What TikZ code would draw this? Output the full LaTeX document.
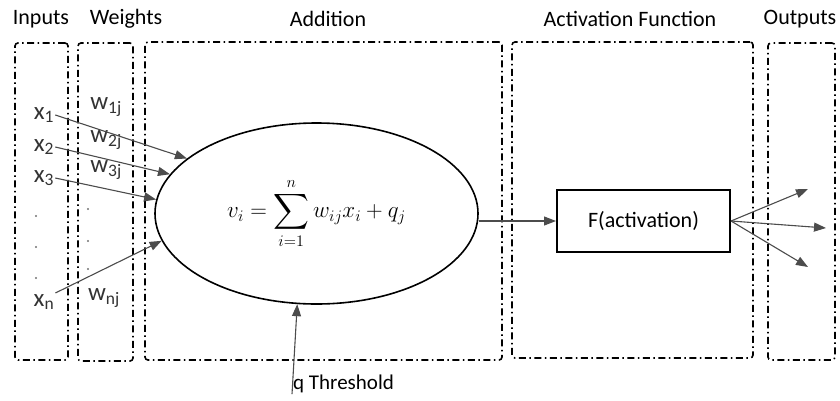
\RequirePackage{fix-cm}
\documentclass[tikz,border=0pt]{standalone}
\usepackage{amsmath}
\usepackage{fontspec}
\setmainfont{Carlito}
\usetikzlibrary{arrows.meta,shapes.geometric}

\begin{document}
\begin{tikzpicture}[
  x=1pt,
  y=-1pt,
  region/.style={
    draw,
    line width=1.6pt,
    dash pattern=on 7pt off 3.5pt on 1.5pt off 3.5pt,
    rounded corners=3pt,
    inner sep=0pt
  },
  header/.style={font=\fontsize{22}{26}\selectfont, inner sep=1pt},
  symbol/.style={font=\fontsize{25}{28}\selectfont, text=black!80, inner sep=1pt},
  dotmark/.style={circle, fill=black!55, inner sep=0pt, minimum size=2.2pt},
  flow/.style={-{Triangle[length=12pt,width=9pt]}, line width=1.1pt, draw=black!70}
]
\useasboundingbox (0,0) rectangle (840,400);

\node[region, minimum width=53, minimum height=317] (inbox) at (41.5,201.5) {};
\node[region, minimum width=55, minimum height=318] (wbox) at (105.5,202) {};
\node[region, minimum width=357, minimum height=318] (addbox) at (323.5,201) {};
\node[region, minimum width=241, minimum height=316] (actbox) at (632.5,200) {};
\node[region, minimum width=67, minimum height=317] (outbox) at (801.5,201.5) {};

\node[header] (hin) at (41,19) {Inputs};
\node[header] (hw) at (126,19) {Weights};
\node[header] (hadd) at (328,19) {Addition};
\node[header] (hact) at (630,19) {Activation Function};
\node[header] (hout) at (800,19) {Outputs};

\node[symbol] (x1) at (44,115) {x\textsubscript{1}};
\node[symbol] (x2) at (44,147) {x\textsubscript{2}};
\node[symbol] (x3) at (44,178) {x\textsubscript{3}};
\node[symbol] (xn) at (44,302) {x\textsubscript{n}};
\node[dotmark] (xdot1) at (36,216) {};
\node[dotmark] (xdot2) at (36,247) {};
\node[dotmark] (xdot3) at (36,278) {};

\node[symbol] (w1) at (106,107) {w\textsubscript{1j}};
\node[symbol] (w2) at (106,140) {w\textsubscript{2j}};
\node[symbol] (w3) at (106,170) {w\textsubscript{3j}};
\node[symbol] (wn) at (104,298) {w\textsubscript{nj}};
\node[dotmark] (wdot1) at (88,209) {};
\node[dotmark] (wdot2) at (88,241) {};
\node[dotmark] (wdot3) at (88,269) {};

\node[ellipse, draw, line width=1.6pt, minimum width=323, minimum height=181, inner sep=0pt,
  font=\fontsize{23}{27}\selectfont] (sum)
  at (316.5,213.5) {$\displaystyle v_i=\sum_{i=1}^{n} w_{ij}x_i+q_j$};

\node[draw, line width=2pt, minimum width=173, minimum height=62, font=\fontsize{22}{26}\selectfont]
  (act) at (643.5,221) {F(activation)};

\node[symbol, font=\fontsize{21}{24}\selectfont, text=black, anchor=west] (thr) at (292,384) {q Threshold};

\coordinate (out1) at (808,189);
\coordinate (out2) at (826,228);
\coordinate (out3) at (808,267);

\draw[flow] (x1.east) -- (sum.157.6);
\draw[flow] (x2.east) -- (sum.165.7);
\draw[flow] (x3.east) -- (sum.175.2);
\draw[flow] (xn.north east) -- (sum.190.3);
\draw[flow] (thr.south west) -- (sum.258.4);

\draw[flow] (sum.east |- act.west) -- (act.west);

\draw[flow] (act.east) -- (out1);
\draw[flow] (act.east) -- (out2);
\draw[flow] (act.east) -- (out3);
\end{tikzpicture}
\end{document}
